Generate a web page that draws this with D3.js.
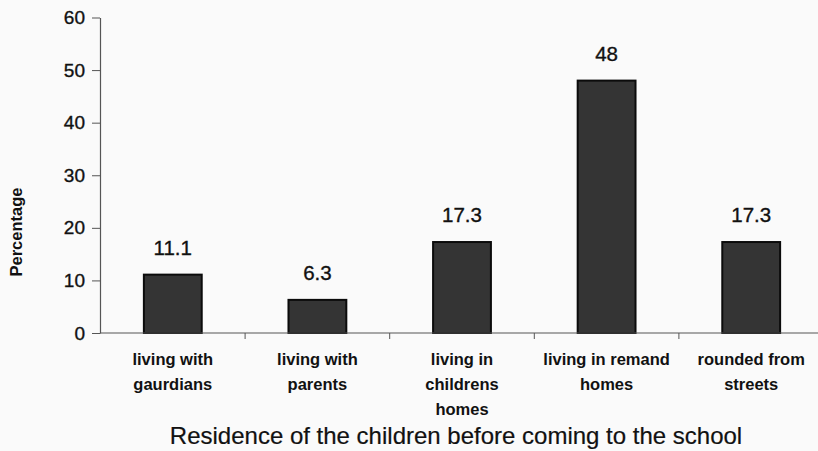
<!DOCTYPE html>
<html>
<head>
<meta charset="utf-8">
<script src="https://cdn.jsdelivr.net/npm/d3@7/dist/d3.min.js"></script>
<style>
  html, body { margin: 0; padding: 0; background: #fafafa; }
  svg { display: block; font-family: "Liberation Sans", Arial, sans-serif; }
</style>
</head>
<body>
<svg id="chart" width="818" height="451"></svg>
<script>
// ---- data ----
const categories = ["gaurdians", "parents", "childrens", "remand", "streets"];
const categoryLabels = [
  ["living with", "gaurdians"],
  ["living with", "parents"],
  ["living in", "childrens", "homes"],
  ["living in remand", "homes"],
  ["rounded from", "streets"]
];
const values = [11.1, 6.3, 17.3, 48, 17.3];
const valueLabels = ["11.1", "6.3", "17.3", "48", "17.3"];
const yTicks = [0, 10, 20, 30, 40, 50, 60];
const yTitle = "Percentage";
const xTitle = "Residence of the children before coming to the school";

// ---- drawing ----
const svg = d3.select("#chart");
svg.append("rect").attr("width", 818).attr("height", 451).attr("fill", "#fafafa");

const y = d3.scaleLinear().domain([0, 60]).range([333, 17.5]);
const xb = d3.scaleBand().domain(categories).range([100.5, 823.5]).padding(0);
const step = xb.step();

// bars
svg.append("g").selectAll("rect")
  .data(categories)
  .join("rect")
  .attr("x", (c) => xb(c) + step * 0.3)
  .attr("width", step * 0.4)
  .attr("y", (c, i) => y(values[i]))
  .attr("height", (c, i) => y(0) - y(values[i]))
  .attr("fill", "#343434")
  .attr("stroke", "#0b0b0b")
  .attr("stroke-width", 2);

// value labels
svg.append("g").selectAll("text")
  .data(categories)
  .join("text")
  .attr("x", (c) => xb(c) + step / 2)
  .attr("y", (c, i) => y(values[i]) - 20)
  .attr("text-anchor", "middle")
  .attr("font-size", 20.5)
  .attr("fill", "#111")
  .attr("stroke", "#111")
  .attr("stroke-width", 0.35)
  .text((c, i) => valueLabels[i]);

// y axis
const yAxis = svg.append("g")
  .attr("transform", "translate(100,0)")
  .call(d3.axisLeft(y).tickValues(yTicks).tickFormat(d3.format("d")).tickSize(8).tickSizeOuter(0).tickPadding(7));
yAxis.select(".domain").attr("stroke", "#555").attr("stroke-width", 1.2);
yAxis.selectAll(".tick line").attr("stroke", "#555");
yAxis.selectAll(".tick text")
  .attr("font-size", 19)
  .attr("font-family", "'Liberation Sans', Arial, sans-serif")
  .attr("fill", "#111")
  .attr("stroke", "#111")
  .attr("stroke-width", 0.35);

// x axis line and boundary ticks
const xAxisG = svg.append("g");
xAxisG.append("line")
  .attr("x1", 100).attr("x2", 818)
  .attr("y1", y(0)).attr("y2", y(0))
  .attr("stroke", "#555").attr("stroke-width", 1.2);
xAxisG.selectAll("line.tk")
  .data(categories.slice(1))
  .join("line")
  .attr("class", "tk")
  .attr("x1", (c) => xb(c)).attr("x2", (c) => xb(c))
  .attr("y1", y(0)).attr("y2", y(0) + 6)
  .attr("stroke", "#555");

// category labels
const catG = svg.append("g").selectAll("text")
  .data(categories)
  .join("text")
  .attr("text-anchor", "middle")
  .attr("font-size", 16.5)
  .attr("font-weight", "bold")
  .attr("fill", "#111");
catG.each(function (c, i) {
  const t = d3.select(this);
  categoryLabels[i].forEach((line, k) => {
    t.append("tspan")
      .attr("x", xb(c) + step / 2)
      .attr("y", 365 + k * 25)
      .text(line);
  });
});

// y title
svg.append("text")
  .attr("transform", "translate(22,232) rotate(-90)")
  .attr("text-anchor", "middle")
  .attr("font-size", 16.5)
  .attr("font-weight", "bold")
  .attr("fill", "#111")
  .text(yTitle);

// x title
svg.append("text")
  .attr("x", 456)
  .attr("y", 444)
  .attr("text-anchor", "middle")
  .attr("font-size", 24)
  .attr("fill", "#111")
  .attr("stroke", "#111")
  .attr("stroke-width", 0.2)
  .text(xTitle);
</script>
</body>
</html>
